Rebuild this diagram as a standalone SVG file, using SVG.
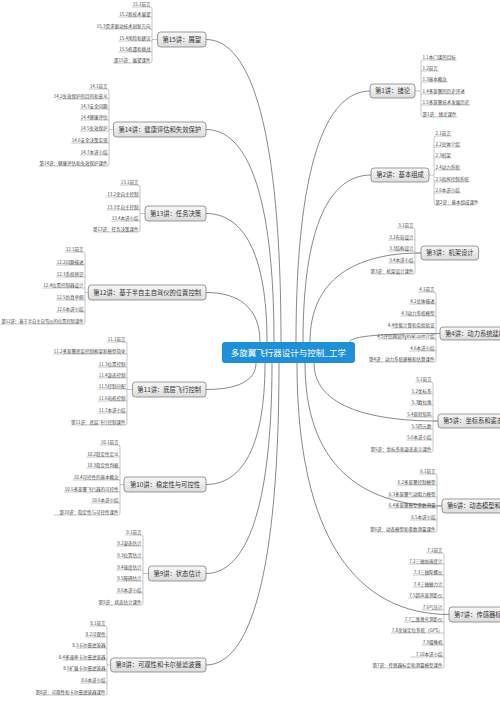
<svg xmlns="http://www.w3.org/2000/svg" width="500" height="707" viewBox="0 0 500 707">
<defs>
<linearGradient id="gb" x1="0" y1="0" x2="0" y2="1"><stop offset="0" stop-color="#f8f8f8"/><stop offset="1" stop-color="#dcdcdc"/></linearGradient>
</defs>
<style>
.c{fill:none;stroke:#555;stroke-width:0.7}
.u{fill:none;stroke:#8c8c8c;stroke-width:0.5}
.t{font-family:"Noto Sans CJK SC","Noto Sans",sans-serif;font-size:4.5px;fill:#444}
.e{text-anchor:end}
.b{fill:url(#gb);stroke:#808080;stroke-width:0.8}
.bt{font-family:"Noto Sans CJK SC","Noto Sans",sans-serif;font-size:6.3px;fill:#333;text-anchor:middle}
.rt{font-family:"Noto Sans CJK SC","Noto Sans",sans-serif;font-size:8.5px;fill:#fff;text-anchor:middle}
</style>
<rect width="500" height="707" fill="#fff"/>
<g id="connectors">
<path class="c" d="M206,39.5 C251,39.5 281,130 281,342"/>
<path class="c" d="M206,129.5 C246.8,129.5 274,193.3 274,342"/>
<path class="c" d="M206,213.5 C242.6,213.5 267,252 267,342"/>
<path class="c" d="M206,292.5 C238.4,292.5 260,307.4 260,342"/>
<path class="c" d="M206,389.5 C236,389.5 256,381.5 256,363"/>
<path class="c" d="M206,484.5 C241.4,484.5 265,448 265,363"/>
<path class="c" d="M206,573.5 C245.6,573.5 272,510.4 272,363"/>
<path class="c" d="M206,665 C249.8,665 279,574.4 279,363"/>
<path class="c" d="M370,91 C325.6,91 296,166.3 296,342"/>
<path class="c" d="M371,175 C330.2,175 303,225.1 303,342"/>
<path class="c" d="M421,253 C354.4,253 310,279.7 310,342"/>
<path class="c" d="M440,333.5 C383.6,333.5 350,336 350,342"/>
<path class="c" d="M438,421 C363.6,421 314,403.6 314,363"/>
<path class="c" d="M442,506 C359.8,506 305,463.1 305,363"/>
<path class="c" d="M449,614.5 C357.8,614.5 297,539 297,363"/>
<path class="u" d="M131.9,7 H150 Q152,7 152,9 V61 Q152,63 150,63 H113 M118.4,17 H152 M100.4,29 H152 M118.4,41 H152 M118.4,52 H152 M152,39.5 H157.6"/>
<path class="u" d="M88.9,89 H107 Q109,89 109,91 V164 Q109,166 107,166 H38.5 M57.4,99 H109 M79.9,109 H109 M79.9,120 H109 M79.9,131 H109 M70.9,143 H109 M79.9,155 H109 M109,129.5 H113.5"/>
<path class="u" d="M119.9,185 H138 Q140,185 140,187 V230 Q140,232 138,232 H96.5 M106.4,197 H140 M106.4,210 H140 M110.9,221 H140 M140,213.5 H145"/>
<path class="u" d="M64.9,252 H83 Q85,252 85,254 V322 Q85,324 83,324 H0.5 M55.9,265 H85 M55.9,277 H85 M42.4,288 H85 M55.9,300 H85 M55.9,312 H85 M85,292.5 H88.3"/>
<path class="u" d="M106.9,342 H125 Q127,342 127,344 V423 Q127,425 125,425 H74.5 M52.9,354 H127 M97.9,367 H127 M97.9,378 H127 M97.9,389 H127 M97.9,401 H127 M97.9,413 H127 M127,389.5 H132.4"/>
<path class="u" d="M99.9,445 H118 Q120,445 120,447 V513 Q120,515 118,515 H54 M86.4,457 H120 M86.4,468 H120 M72.9,480 H120 M63.9,492 H120 M90.9,503 H120 M120,484.5 H124"/>
<path class="u" d="M125.3,535 H141 Q143,535 143,537 V603 Q143,605 141,605 H102 M116.3,546 H143 M116.3,558 H143 M116.3,570 H143 M116.3,581 H143 M116.3,593 H143 M143,573.5 H148.4"/>
<path class="u" d="M89.3,626 H105 Q107,626 107,628 V693 Q107,695 105,695 H39 M84.8,637 H107 M75.8,648 H107 M62.3,660 H107 M66.8,671 H107 M80.3,683 H107 M107,665 H110.6"/>
<path class="u" d="M456.7,60 H423 Q421,60 421,62 V115 Q421,117 423,117 H457.5 M438.7,71 H421 M447.7,82 H421 M461.2,94 H421 M470.2,105 H421 M415,91 H421"/>
<path class="u" d="M451.7,136 H436 Q434,136 434,138 V203 Q434,205 436,205 H475 M460.7,147 H434 M451.7,158 H434 M460.7,170 H434 M469.7,182 H434 M460.7,193 H434 M429,175 H434"/>
<path class="u" d="M397.3,228 H413 Q415,228 415,230 V272 Q415,274 413,274 H374 M388.3,240 H415 M388.3,251 H415 M388.3,263 H415 M415,253 H421"/>
<path class="u" d="M418.3,292 H434 Q436,292 436,294 V360 Q436,362 434,362 H372.5 M409.3,304 H436 M400.3,316 H436 M391.3,328 H436 M377.9,339 H436 M409.3,351 H436 M436,333.5 H440"/>
<path class="u" d="M415.3,382 H431 Q433,382 433,384 V450 Q433,452 431,452 H374 M410.8,394 H433 M410.8,405 H433 M406.3,417 H433 M410.8,429 H433 M406.3,440 H433 M433,421 H438"/>
<path class="u" d="M419.3,474 H435 Q437,474 437,476 V530 Q437,532 435,532 H373.5 M396.8,485 H437 M387.8,497 H437 M387.8,508 H437 M410.3,520 H437 M437,506 H442"/>
<path class="u" d="M426.3,553 H442 Q444,553 444,555 V666 Q444,668 442,668 H376 M408.3,564 H444 M412.8,575 H444 M412.8,587 H444 M408.3,598 H444 M421.8,610 H444 M403.8,622 H444 M391,633 H444 M421.8,645 H444 M410.4,657 H444 M444,614.5 H449"/>
</g>
<g id="root">
<rect x="222" y="342" width="133" height="21" rx="3" fill="#1f8fd8"/>
<text class="rt" x="288.5" y="355.5">多旋翼飞行器设计与控制_工学</text>
</g>
<g id="n15">
<rect class="b" x="157.6" y="32" width="48.4" height="15" rx="3"/>
<text class="bt" x="181.8" y="41.7">第15讲：展望</text>
<text class="t e" x="150.5" y="5.7">15.1前言</text>
<text class="t e" x="150.5" y="15.7">15.2新技术展望</text>
<text class="t e" x="150.5" y="27.7">15.3需求驱动技术创新方向</text>
<text class="t e" x="150.5" y="39.7">15.4风险和建议</text>
<text class="t e" x="150.5" y="50.7">15.5机遇和挑战</text>
<text class="t e" x="150.5" y="61.7">第15讲：展望课件</text>
</g>
<g id="n14">
<rect class="b" x="113.5" y="122" width="92.5" height="15" rx="3"/>
<text class="bt" x="159.75" y="131.7">第14讲：健康评估和失效保护</text>
<text class="t e" x="107.5" y="87.7">14.1前言</text>
<text class="t e" x="107.5" y="97.7">14.2失效保护的目的和意义</text>
<text class="t e" x="107.5" y="107.7">14.3安全问题</text>
<text class="t e" x="107.5" y="118.7">14.4健康评估</text>
<text class="t e" x="107.5" y="129.7">14.5失效保护</text>
<text class="t e" x="107.5" y="141.7">14.6安全决策实现</text>
<text class="t e" x="107.5" y="153.7">14.7本讲小结</text>
<text class="t e" x="107.5" y="164.7">第14讲：健康评估和失效保护课件</text>
</g>
<g id="n13">
<rect class="b" x="145" y="206" width="61" height="15" rx="3"/>
<text class="bt" x="175.5" y="215.7">第13讲：任务决策</text>
<text class="t e" x="138.5" y="183.7">13.1前言</text>
<text class="t e" x="138.5" y="195.7">13.2全自主控制</text>
<text class="t e" x="138.5" y="208.7">13.3半自主控制</text>
<text class="t e" x="138.5" y="219.7">13.4本讲小结</text>
<text class="t e" x="138.5" y="230.7">第13讲：任务决策课件</text>
</g>
<g id="n12">
<rect class="b" x="88.3" y="285" width="117.7" height="15" rx="3"/>
<text class="bt" x="147.15" y="294.7">第12讲：基于半自主自驾仪的位置控制</text>
<text class="t e" x="83.5" y="250.7">12.1前言</text>
<text class="t e" x="83.5" y="263.7">12.2问题描述</text>
<text class="t e" x="83.5" y="275.7">12.3系统辨识</text>
<text class="t e" x="83.5" y="286.7">12.4位置控制器设计</text>
<text class="t e" x="83.5" y="298.7">12.5仿真举例</text>
<text class="t e" x="83.5" y="310.7">12.6本讲小结</text>
<text class="t" x="1.5" y="322.7" textLength="82" lengthAdjust="spacingAndGlyphs">第12讲：基于半自主自驾仪的位置控制课件</text>
</g>
<g id="n11">
<rect class="b" x="132.4" y="382" width="73.6" height="15" rx="3"/>
<text class="bt" x="169.2" y="391.7">第11讲：底层飞行控制</text>
<text class="t e" x="125.5" y="340.7">11.1前言</text>
<text class="t e" x="125.5" y="352.7">11.2多旋翼底层控制框架和模型简化</text>
<text class="t e" x="125.5" y="365.7">11.3位置控制</text>
<text class="t e" x="125.5" y="376.7">11.4姿态控制</text>
<text class="t e" x="125.5" y="387.7">11.5控制分配</text>
<text class="t e" x="125.5" y="399.7">11.6电机控制</text>
<text class="t e" x="125.5" y="411.7">11.7本讲小结</text>
<text class="t e" x="125.5" y="423.7">第11讲：底层飞行控制课件</text>
</g>
<g id="n10">
<rect class="b" x="124" y="477" width="82" height="15" rx="3"/>
<text class="bt" x="165" y="486.7">第10讲：稳定性与可控性</text>
<text class="t e" x="118.5" y="443.7">10.1前言</text>
<text class="t e" x="118.5" y="455.7">10.2稳定性定义</text>
<text class="t e" x="118.5" y="466.7">10.3稳定性判据</text>
<text class="t e" x="118.5" y="478.7">10.4可控性的基本概念</text>
<text class="t e" x="118.5" y="490.7">10.5多旋翼飞行器的可控性</text>
<text class="t e" x="118.5" y="501.7">10.6本讲小结</text>
<text class="t e" x="118.5" y="513.7">第10讲：稳定性与可控性课件</text>
</g>
<g id="n9">
<rect class="b" x="148.4" y="566" width="57.6" height="15" rx="3"/>
<text class="bt" x="177.2" y="575.7">第9讲：状态估计</text>
<text class="t e" x="141.5" y="533.7">9.1前言</text>
<text class="t e" x="141.5" y="544.7">9.2姿态估计</text>
<text class="t e" x="141.5" y="556.7">9.3位置估计</text>
<text class="t e" x="141.5" y="568.7">9.4速度估计</text>
<text class="t e" x="141.5" y="579.7">9.5障碍估计</text>
<text class="t e" x="141.5" y="591.7">9.6本讲小结</text>
<text class="t e" x="141.5" y="603.7">第9讲：状态估计课件</text>
</g>
<g id="n8">
<rect class="b" x="110.6" y="658" width="95.4" height="14" rx="3"/>
<text class="bt" x="158.3" y="667.2">第8讲：可观性和卡尔曼滤波器</text>
<text class="t e" x="105.5" y="624.7">8.1前言</text>
<text class="t e" x="105.5" y="635.7">8.2可观性</text>
<text class="t e" x="105.5" y="646.7">8.3卡尔曼滤波器</text>
<text class="t e" x="105.5" y="658.7">8.4多速率卡尔曼滤波器</text>
<text class="t e" x="105.5" y="669.7">8.5扩展卡尔曼滤波器</text>
<text class="t e" x="105.5" y="681.7">8.6本讲小结</text>
<text class="t e" x="105.5" y="693.7">第8讲：可观性和卡尔曼滤波器课件</text>
</g>
<g id="n1">
<rect class="b" x="370" y="84" width="45" height="14" rx="3"/>
<text class="bt" x="392.5" y="93.2">第1讲：绪论</text>
<text class="t" x="422.5" y="58.7">1.1本门课的目标</text>
<text class="t" x="422.5" y="69.7">1.2前言</text>
<text class="t" x="422.5" y="80.7">1.3基本概念</text>
<text class="t" x="422.5" y="92.7">1.4多旋翼的历史评述</text>
<text class="t" x="422.5" y="103.7">1.5多旋翼技术发展历史</text>
<text class="t" x="422.5" y="115.7">第1讲：绪论课件</text>
</g>
<g id="n2">
<rect class="b" x="371" y="168" width="58" height="14" rx="3"/>
<text class="bt" x="400" y="177.2">第2讲：基本组成</text>
<text class="t" x="435.5" y="134.7">2.1前言</text>
<text class="t" x="435.5" y="145.7">2.2总体介绍</text>
<text class="t" x="435.5" y="156.7">2.3机架</text>
<text class="t" x="435.5" y="168.7">2.4动力系统</text>
<text class="t" x="435.5" y="180.7">2.5指挥控制系统</text>
<text class="t" x="435.5" y="191.7">2.6本讲小结</text>
<text class="t" x="435.5" y="203.7">第2讲：基本组成课件</text>
</g>
<g id="n3">
<rect class="b" x="421" y="246" width="57.6" height="14" rx="3"/>
<text class="bt" x="449.8" y="255.2">第3讲：机架设计</text>
<text class="t e" x="413.5" y="226.7">3.1前言</text>
<text class="t e" x="413.5" y="238.7">3.2布局设计</text>
<text class="t e" x="413.5" y="249.7">3.3结构设计</text>
<text class="t e" x="413.5" y="261.7">3.4本讲小结</text>
<text class="t e" x="413.5" y="272.7">第3讲：机架设计课件</text>
</g>
<g id="n4">
<rect class="b" x="440" y="327" width="89" height="13" rx="3"/>
<text class="bt" x="484.5" y="335.7">第4讲：动力系统建模和估算</text>
<text class="t e" x="434.5" y="290.7">4.1前言</text>
<text class="t e" x="434.5" y="302.7">4.2总体描述</text>
<text class="t e" x="434.5" y="314.7">4.3动力系统模型</text>
<text class="t e" x="434.5" y="326.7">4.4性能计算和实验验证</text>
<text class="t e" x="434.5" y="337.7">4.5评估网站flyeval.com介绍</text>
<text class="t e" x="434.5" y="349.7">4.6本讲小结</text>
<text class="t e" x="434.5" y="360.7">第4讲：动力系统建模和估算课件</text>
</g>
<g id="n5">
<rect class="b" x="438" y="414" width="82.8" height="14" rx="3"/>
<text class="bt" x="479.4" y="423.2">第5讲：坐标系和姿态表示</text>
<text class="t e" x="431.5" y="380.7">5.1前言</text>
<text class="t e" x="431.5" y="392.7">5.2坐标系</text>
<text class="t e" x="431.5" y="403.7">5.3欧拉角</text>
<text class="t e" x="431.5" y="415.7">5.4旋转矩阵</text>
<text class="t e" x="431.5" y="427.7">5.5四元数</text>
<text class="t e" x="431.5" y="438.7">5.6本讲小结</text>
<text class="t e" x="431.5" y="450.7">第5讲：坐标系和姿态表示课件</text>
</g>
<g id="n6">
<rect class="b" x="442" y="499" width="89" height="14" rx="3"/>
<text class="bt" x="486.5" y="508.2">第6讲：动态模型和参数测量</text>
<text class="t e" x="435.5" y="472.7">6.1前言</text>
<text class="t e" x="435.5" y="483.7">6.2多旋翼控制模型</text>
<text class="t e" x="435.5" y="495.7">6.3多旋翼气动阻力模型</text>
<text class="t e" x="435.5" y="506.7">6.4多旋翼模型参数测量</text>
<text class="t e" x="435.5" y="518.7">6.5本讲小结</text>
<text class="t e" x="435.5" y="530.7">第6讲：动态模型和参数测量课件</text>
</g>
<g id="n7">
<rect class="b" x="449" y="607" width="95.4" height="15" rx="3"/>
<text class="bt" x="496.7" y="616.7">第7讲：传感器标定和测量模型</text>
<text class="t e" x="442.5" y="551.7">7.1前言</text>
<text class="t e" x="442.5" y="562.7">7.2三轴加速度计</text>
<text class="t e" x="442.5" y="573.7">7.3三轴陀螺仪</text>
<text class="t e" x="442.5" y="585.7">7.4三轴磁力计</text>
<text class="t e" x="442.5" y="596.7">7.5超声波测距仪</text>
<text class="t e" x="442.5" y="608.7">7.6气压计</text>
<text class="t e" x="442.5" y="620.7">7.7二维激光测距仪</text>
<text class="t e" x="442.5" y="631.7">7.8全球定位系统（GPS）</text>
<text class="t e" x="442.5" y="643.7">7.9摄像机</text>
<text class="t e" x="442.5" y="655.7">7.10本讲小结</text>
<text class="t e" x="442.5" y="666.7">第7讲：传感器标定和测量模型课件</text>
</g>
</svg>
